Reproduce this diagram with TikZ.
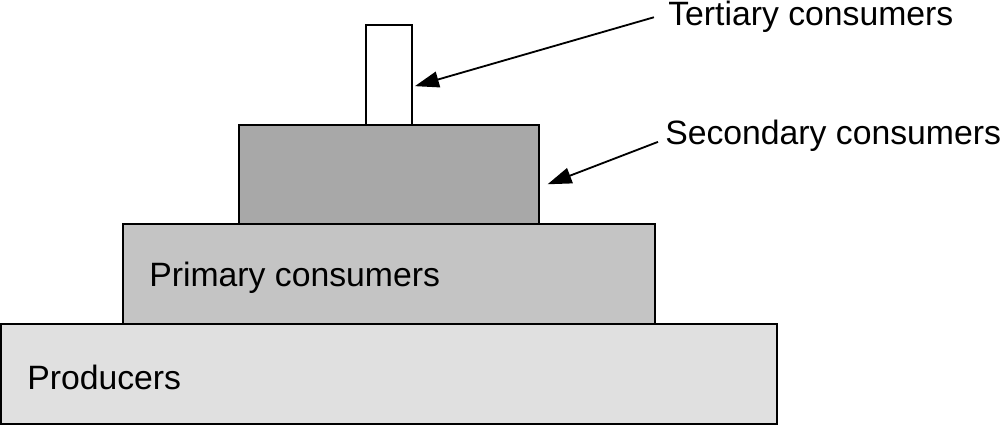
\documentclass[tikz,border=0pt]{standalone}
\usepackage{fontspec}
\setmainfont{Liberation Sans}
\usetikzlibrary{arrows.meta, positioning}

\begin{document}
\begin{tikzpicture}[
  x=0.025cm, y=0.025cm,
  font=\fontsize{24}{28}\selectfont,
  layer/.style={rectangle, draw, line width=1.3pt, outer sep=0pt, inner sep=0pt, minimum height=2.5cm, anchor=south west},
  label/.style={inner sep=0pt, anchor=base west},
  arrow/.style={-{Triangle[length=6mm, width=4mm]}, line width=1.3pt}
]
\useasboundingbox (0,0) rectangle (1000,426);

% NODES
\node[layer, fill=black!12, minimum width=19.4cm] (prod) at (1,2) {};
\node[layer, fill=black!23, minimum width=13.3cm, above right=0pt and 3.05cm of prod.north west] (prim) {};
\node[layer, fill=black!34, minimum width=7.5cm, minimum height=2.475cm, above right=0pt and 2.9cm of prim.north west] (sec) {};
\node[layer, fill=white, minimum width=1.15cm, above right=0pt and 3.175cm of sec.north west] (tert) {};

\node[label] (prodlbl) at ([xshift=0.65cm, yshift=-0.4cm]prod.west) {Producers};
\node[label] (primlbl) at ([xshift=0.65cm, yshift=-0.32cm]prim.west) {Primary consumers};
\node[label] (tertlbl) at (668,400) {Tertiary consumers};
\node[label] (seclbl) at (665,281) {Secondary consumers};

% ARROWS
\coordinate (terttip) at ([xshift=2, yshift=-8]tert.east);
\coordinate (sectip) at ([xshift=6, yshift=-7]sec.east);
\draw[arrow] ([xshift=-10]tertlbl.west) -- (terttip);
\draw[arrow] ([xshift=-5, yshift=-4]seclbl.west) -- (sectip);

\end{tikzpicture}
\end{document}
